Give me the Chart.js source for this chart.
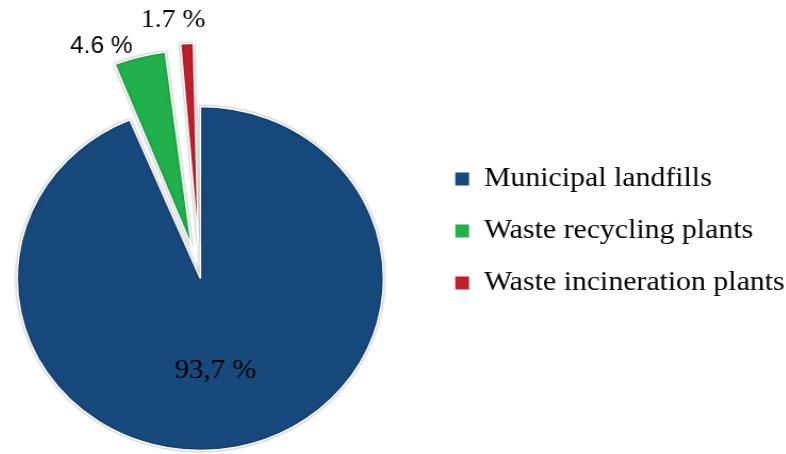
<!DOCTYPE html>
<html>
<head>
<meta charset="utf-8">
<script src="https://cdn.jsdelivr.net/npm/chart.js@4.4.1/dist/chart.umd.min.js"></script>
<style>
    html, body { margin: 0; padding: 0; background: #fff; overflow: hidden; }
    /* the reference is a little wider than tall, so the whole chart is stretched;
       the canvas starts a bit left of the window so the pie sits where it should */
    #wrap { position: relative; left: -28.8px; width: 765px; height: 454px; transform: scaleX(1.065); transform-origin: 0 0; }
</style>
</head>
<body>
<div id="wrap"><canvas id="wasteChart"></canvas></div>
<script>
const categories = ['Municipal landfills', 'Waste recycling plants', 'Waste incineration plants'];
const shares = [93.7, 4.6, 1.7];
const valueLabels = ['93,7 %', '4.6 %', '1.7 %'];
const sliceColors = ['#17497c', '#21b04b', '#c1202b'];
const sliceOffsets = [0, 133, 134];

// label style per slice: font, where along the radius, small nudge
const labelFonts = ['27px "Liberation Serif"', '23px "Liberation Sans"', '26px "Liberation Serif"'];
const labelRadius = [0.535, 1, 1];
const labelNudge = [[-4, 2], [-36, -10], [-13, -23]];

// shadow under the slices + value labels
const sliceLabels = {
    id: 'sliceLabels',
    beforeDatasetsDraw(chart) {
        const ctx = chart.ctx;
        ctx.save();
        ctx.shadowColor = 'rgba(0,0,0,0.35)';
        ctx.shadowBlur = 3;
    },
    afterDatasetsDraw(chart) {
        const ctx = chart.ctx;
        ctx.restore();
        const meta = chart.getDatasetMeta(0);
        meta.data.forEach((arc, i) => {
            const p = arc.getProps(['x', 'y', 'startAngle', 'endAngle', 'outerRadius', 'circumference']);
            const mid = (p.startAngle + p.endAngle) / 2;
            // same shift Chart.js uses for an offset arc
            const off = (arc.options.offset || 0) / 4;
            const fix = 1 - Math.sin(Math.min(Math.PI, p.circumference || 0));
            const t = off + off * fix;
            const cx = p.x + Math.cos(mid) * t;
            const cy = p.y + Math.sin(mid) * t;
            const r = p.outerRadius * labelRadius[i];
            const x = cx + Math.cos(mid) * r + labelNudge[i][0];
            const y = cy + Math.sin(mid) * r + labelNudge[i][1];
            ctx.save();
            ctx.font = labelFonts[i];
            ctx.fillStyle = '#000';
            ctx.textAlign = 'center';
            ctx.textBaseline = 'middle';
            ctx.fillText(valueLabels[i], x, y);
            ctx.restore();
        });
    }
};

new Chart(document.getElementById('wasteChart').getContext('2d'), {
    type: 'pie',
    data: {
        labels: categories,
        datasets: [{
            data: shares,
            backgroundColor: sliceColors,
            borderColor: '#ffffff',
            borderWidth: 1.5,
            offset: sliceOffsets
        }]
    },
    options: {
        responsive: true,
        maintainAspectRatio: false,
        animation: false,
        radius: 172,
        layout: {
            padding: { left: 0, right: -9, top: 141, bottom: 38 }
        },
        plugins: {
            tooltip: { enabled: false },
            legend: {
                position: 'right',
                align: 'start',
                labels: {
                    color: '#000',
                    font: { family: '"Liberation Serif"', size: 28 },
                    boxWidth: 13,
                    boxHeight: 13,
                    padding: 24,
                    generateLabels(chart) {
                        const items = Chart.overrides.pie.plugins.legend.labels.generateLabels(chart);
                        items.forEach(item => { item.lineWidth = 0; });
                        return items;
                    }
                }
            }
        }
    },
    plugins: [sliceLabels]
});
</script>
</body>
</html>
